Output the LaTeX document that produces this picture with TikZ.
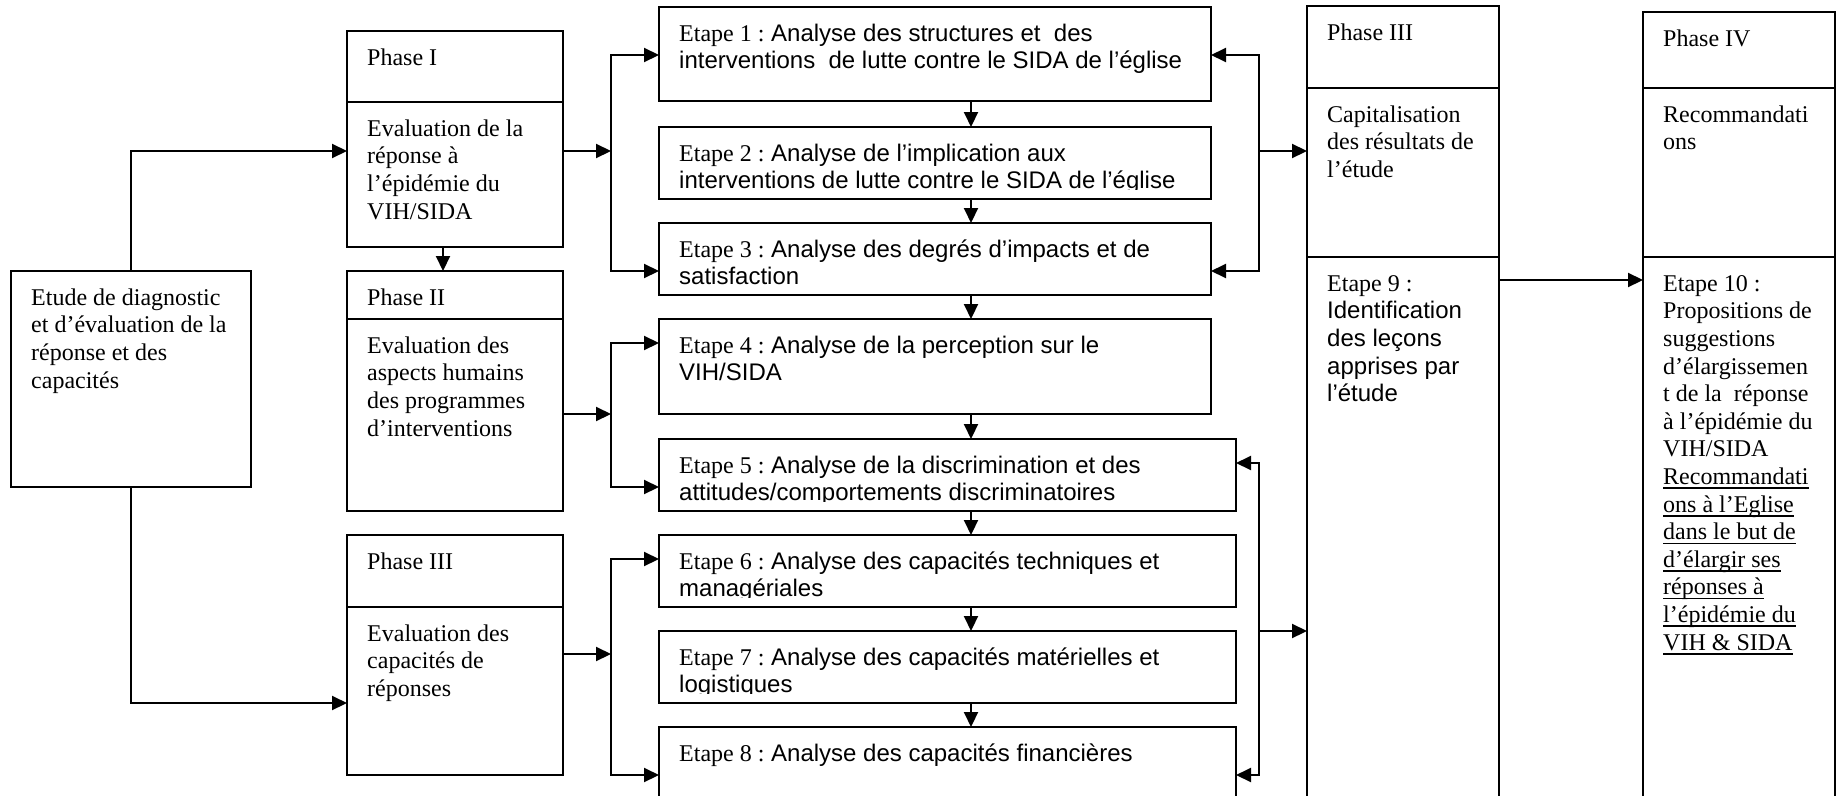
\documentclass[tikz,border=0pt]{standalone}
\usepackage{fontspec}
\setmainfont{Liberation Serif}
\newfontfamily\ar{Liberation Sans}
\usetikzlibrary{arrows.meta}
\newcommand\uln[1]{\leavevmode\setbox0=\hbox{#1}\rlap{\rule[-4.5pt]{\wd0}{1.5pt}}\box0}
\newcommand\fs{\rule{0pt}{23pt}}
\newcommand\bx[5]{\node[bxs, minimum width={(#4-#2)*1pt}, minimum height={(#5-#3)*1pt}] (#1) at ({(#2+#4)/2},{(#3+#5)/2}) {};}
\begin{document}
\begin{tikzpicture}[x=1pt,y=-1pt,
  bxs/.style={draw, line width=2.3pt, inner sep=0pt, outer sep=0pt},
  tx/.style={anchor=north west, inner sep=0pt, align=left, font=\fontsize{24}{27.6}\selectfont},
  conn/.style={line width=2.1pt, -{Triangle[length=15pt,width=14pt]}},
  conn2/.style={line width=2.1pt, {Triangle[length=15pt,width=14pt]}-{Triangle[length=15pt,width=14pt]}},
]
\useasboundingbox (0,0) rectangle (1841,795);
\clip (0,0) rectangle (1841,795);

% boxes
\bx{etude}{11}{271}{251}{487}
\bx{p1t}{347}{31}{563}{102}
\bx{p1b}{347}{102}{563}{247}
\bx{p2t}{347}{271}{563}{319}
\bx{p2b}{347}{319}{563}{511}
\bx{p3t}{347}{535}{563}{607}
\bx{p3b}{347}{607}{563}{775}
\bx{e1}{659}{7}{1211}{101}
\bx{e2}{659}{127}{1211}{199}
\bx{e3}{659}{223}{1211}{295}
\bx{e4}{659}{319}{1211}{414}
\bx{e5}{659}{439}{1236}{511}
\bx{e6}{659}{535}{1236}{607}
\bx{e7}{659}{631}{1236}{703}
\bx{e8}{659}{727}{1236}{830}
\bx{qt}{1307}{6}{1499}{88}
\bx{qa}{1307}{88}{1499}{257}
\bx{qb}{1307}{257}{1499}{830}
\bx{rt}{1643}{12}{1835}{88}
\bx{ra}{1643}{88}{1835}{257}
\bx{rb}{1643}{257}{1835}{830}

% texts
\node[tx] (tetude) at (31,282) {\fs Etude de diagnostic\\et d’évaluation de la\\réponse et des\\capacités};
\node[tx] (tp1t) at (367,42) {\fs Phase I};
\node[tx] (tp1b) at (367,113) {\fs Evaluation de la\\réponse à\\l’épidémie du\\VIH/SIDA};
\node[tx] (tp2t) at (367,282) {\fs Phase II};
\node[tx] (tp2b) at (367,330) {\fs Evaluation des\\aspects humains\\des programmes\\d’interventions};
\node[tx] (tp3t) at (367,546) {\fs Phase III};
\node[tx] (tp3b) at (367,618) {\fs Evaluation des\\capacités de\\réponses};

\begin{scope}\clip (659,7) rectangle (1211,91);
\node[tx] (te1) at (679,18) {\fs Etape 1 :{\ar\ Analyse des structures et\ \ des}\\{\ar interventions\ \ de lutte contre le SIDA de l’église}};
\end{scope}
\begin{scope}\clip (659,127) rectangle (1211,189);
\node[tx] (te2) at (679,138) {\fs Etape 2 :{\ar\ Analyse de l’implication aux}\\{\ar interventions de lutte contre le SIDA de l’église}};
\end{scope}
\begin{scope}\clip (659,223) rectangle (1211,290);
\node[tx] (te3) at (679,234) {\fs Etape 3 :{\ar\ Analyse des degrés d’impacts et de}\\{\ar satisfaction}};
\end{scope}
\begin{scope}\clip (659,319) rectangle (1211,404);
\node[tx] (te4) at (679,330) {\fs Etape 4 :{\ar\ Analyse de la perception sur le}\\{\ar VIH/SIDA}};
\end{scope}
\begin{scope}\clip (659,439) rectangle (1236,501);
\node[tx] (te5) at (679,450) {\fs Etape 5 :{\ar\ Analyse de la discrimination et des}\\{\ar attitudes/comportements discriminatoires}};
\end{scope}
\begin{scope}\clip (659,535) rectangle (1236,597);
\node[tx] (te6) at (679,546) {\fs Etape 6 :{\ar\ Analyse des capacités techniques et}\\{\ar managériales}};
\end{scope}
\begin{scope}\clip (659,631) rectangle (1236,693);
\node[tx] (te7) at (679,642) {\fs Etape 7 :{\ar\ Analyse des capacités matérielles et}\\{\ar logistiques}};
\end{scope}
\node[tx] (te8) at (679,738) {\fs Etape 8 :{\ar\ Analyse des capacités financières}};

\node[tx] (tqt) at (1327,17) {\fs Phase III};
\node[tx] (tqa) at (1327,99) {\fs Capitalisation\\des résultats de\\l’étude};
\node[tx] (tqb) at (1327,268) {\fs Etape 9 :\\{\ar Identification}\\{\ar des leçons}\\{\ar apprises par}\\{\ar l’étude}};
\node[tx] (trt) at (1663,23) {\fs Phase IV};
\node[tx] (tra) at (1663,99) {\fs Recommandati\\ons};
\node[tx] (trb) at (1663,268) {\fs Etape 10 :\\Propositions de\\suggestions\\d’élargissemen\\t de la\ \ réponse\\à l’épidémie du\\VIH/SIDA\\\uln{Recommandati}\\\uln{ons à l’Eglise}\\\uln{dans le but de}\\\uln{d’élargir ses}\\\uln{réponses à}\\\uln{l’épidémie du}\\\uln{VIH \& SIDA}};

% helper coordinates
\coordinate (xL) at (611,0);
\coordinate (xR) at (1259,0);
\coordinate (xd) at (971,0);
\coordinate (xp) at (443,0);
\coordinate (y55) at (0,55);
\coordinate (y151) at (0,151);
\coordinate (y271) at (0,271);
\coordinate (y280) at (0,280);
\coordinate (y343) at (0,343);
\coordinate (y414) at (0,414);
\coordinate (y463) at (0,463);
\coordinate (y487) at (0,487);
\coordinate (y559) at (0,559);
\coordinate (y631) at (0,631);
\coordinate (y654) at (0,654);
\coordinate (y703) at (0,703);
\coordinate (y775) at (0,775);

% connectors
\draw[conn] (etude.north) |- (p1b.west |- y151);
\draw[conn] (etude.south) |- (p3b.west |- y703);
\draw[conn] (p1b.south -| xp) -- (p2t.north -| xp);
\draw[conn] (p1b.east |- y151) -- (xL |- y151);
\draw[conn2] (e1.west |- y55) -- (xL |- y55) -- (xL |- y271) -- (e3.west |- y271);
\draw[conn] (p2b.east |- y414) -- (xL |- y414);
\draw[conn2] (e4.west |- y343) -- (xL |- y343) -- (xL |- y487) -- (e5.west |- y487);
\draw[conn] (p3b.east |- y654) -- (xL |- y654);
\draw[conn2] (e6.west |- y559) -- (xL |- y559) -- (xL |- y775) -- (e8.west |- y775);
\foreach \a/\b in {e1/e2,e2/e3,e3/e4,e4/e5,e5/e6,e6/e7,e7/e8}
  \draw[conn] (\a.south -| xd) -- (\b.north -| xd);
\draw[conn2] (e1.east |- y55) -- (xR |- y55) -- (xR |- y271) -- (e3.east |- y271);
\draw[conn] (xR |- y151) -- (qa.west |- y151);
\draw[conn2] (e5.east |- y463) -- (xR |- y463) -- (xR |- y775) -- (e8.east |- y775);
\draw[conn] (xR |- y631) -- (qb.west |- y631);
\draw[conn] (qb.east |- y280) -- (rb.west |- y280);
\end{tikzpicture}
\end{document}
